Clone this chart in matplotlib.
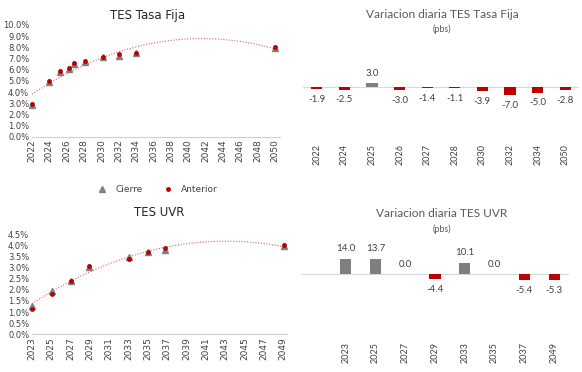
import numpy as np
import matplotlib
matplotlib.use("Agg")
import matplotlib.pyplot as plt
from matplotlib.lines import Line2D

# --- TES Tasa Fija curve (yield %) ---
tf_x = [2022.0, 2024.0, 2025.25, 2026.25, 2026.9, 2028.1, 2030.2, 2032.0, 2034.0, 2050.0]
tf_cierre = [2.87, 4.90, 5.80, 6.10, 6.55, 6.70, 7.10, 7.22, 7.46, 7.97]
tf_anterior = [2.93, 5.01, 5.88, 6.18, 6.63, 6.80, 7.16, 7.43, 7.52, 8.03]

# --- TES UVR curve (yield %) ---
uvr_x = [2023.0, 2025.05, 2027.05, 2028.9, 2033.0, 2035.0, 2036.8, 2049.1]
uvr_cierre = [1.27, 1.93, 2.40, 3.03, 3.50, 3.69, 3.78, 3.97]
uvr_anterior = [1.15, 1.83, 2.42, 3.07, 3.40, 3.72, 3.88, 4.02]

# --- daily changes (pbs) ---
tf_labels = ["2022", "2024", "2025", "2026", "2027", "2028", "2030", "2032", "2034", "2050"]
tf_var = [-1.9, -2.5, 3.0, -3.0, -1.4, -1.1, -3.9, -7.0, -5.0, -2.8]
uvr_labels = ["2023", "2025", "2027", "2029", "2033", "2035", "2037", "2049"]
uvr_var = [14.0, 13.7, 0.0, -4.4, 10.1, 0.0, -5.4, -5.3]

W, H = 582, 372
GRAY = "#7f7f7f"
RED = "#c00000"
TXT = "#404040"


def box(l, r, t, b):
    # pixel box -> figure fraction rect
    return [l / W, 1 - b / H, (r - l) / W, (b - t) / H]


fig = plt.figure(figsize=(W / 100, H / 100), dpi=100)


def curve(rect, x, cierre, anterior, xlim, ylim, yticks, xticks):
    ax = fig.add_axes(rect)
    coef = np.polyfit(x, cierre, 2)
    xs = np.linspace(x[0], x[-1], 200)
    ax.plot(xs, np.polyval(coef, xs), ls=(0, (1, 1.5)), color="#e06060", lw=0.8)
    ax.plot(x, cierre, "^", color=GRAY, ms=4, mec=GRAY, clip_on=False)
    ax.plot(x, anterior, "o", color=RED, ms=3, mec="#a00000", mew=0.4, clip_on=False)
    ax.set_xlim(*xlim)
    ax.set_ylim(*ylim)
    ax.set_yticks(yticks)
    ax.set_yticklabels([f"{v:.1f}%" for v in yticks], fontsize=6, color=TXT)
    ax.set_xticks(xticks)
    ax.set_xticklabels([str(v) for v in xticks], rotation=90, fontsize=6.5, color=TXT)
    for s in ["top", "right", "left"]:
        ax.spines[s].set_visible(False)
    ax.spines["bottom"].set_color("#d0d0d0")
    ax.tick_params(length=0, pad=2)
    return ax


curve(box(32, 280, 25, 136.7), tf_x, tf_cierre, tf_anterior, (2022, 2050.6), (0, 10),
      np.arange(0, 10.01, 1.0), list(range(2022, 2051, 2)))
curve(box(32, 287, 234.3, 334.3), uvr_x, uvr_cierre, uvr_anterior, (2023, 2049.4), (0, 4.5),
      np.arange(0, 4.51, 0.5), list(range(2023, 2050, 2)))

fig.text(148 / W, 1 - 15 / H, "TES Tasa Fija", ha="center", va="center", fontsize=8.5, color="#262626")
fig.text(159 / W, 1 - 212.7 / H, "TES UVR", ha="center", va="center", fontsize=8.5, color="#262626")

handles = [Line2D([], [], ls="", marker="^", color=GRAY, ms=4),
           Line2D([], [], ls="", marker="o", color=RED, ms=2.5)]
fig.legend(handles, ["Cierre", "Anterior"], loc="center", bbox_to_anchor=(157 / W, 1 - 190 / H),
           ncol=2, frameon=False, fontsize=6.5, columnspacing=2.2, handletextpad=0.9,
           handlelength=1.2, labelcolor=TXT)


def bars(rect, labels, vals, xlim, ylim, width):
    ax = fig.add_axes(rect)
    pos = np.arange(len(vals))
    cols = [GRAY if v >= 0 else RED for v in vals]
    ax.bar(pos, vals, width=width, color=cols)
    ax.axhline(0, color="#d9d9d9", lw=0.8, zorder=0)
    for p, v in zip(pos, vals):
        if v >= 0:
            ax.annotate(f"{v:.1f}", (p, v), xytext=(0, 4), textcoords="offset points",
                        ha="center", va="bottom", fontsize=7, color=TXT, family="Lato")
        else:
            ax.annotate(f"{v:.1f}", (p, v), xytext=(0, -4), textcoords="offset points",
                        ha="center", va="top", fontsize=7, color=TXT, family="Lato")
    ax.set_xlim(*xlim)
    ax.set_ylim(*ylim)
    ax.set_yticks([])
    ax.set_xticks(pos)
    ax.set_xticklabels(labels, rotation=90, fontsize=6.5, color=TXT, family="Lato")
    for s in ax.spines.values():
        s.set_visible(False)
    ax.tick_params(length=0, pad=3)
    return ax


bars(box(303, 579, 45, 140), tf_labels, tf_var, (-0.5, 9.5), (-44.4, 34.75), 0.4)
bars(box(301, 569, 250, 338), uvr_labels, uvr_var, (-1.5, 7.5), (-56.9, 21.7), 0.37)

fig.text(442 / W, 1 - 15 / H, "Variacion diaria TES Tasa Fija", ha="center", va="center",
         fontsize=8.6, color="#595959", family="Lato")
fig.text(442 / W, 1 - 29 / H, "(pbs)", ha="center", va="center", fontsize=6.5,
         color="#595959", family="Lato")
fig.text(442 / W, 1 - 213 / H, "Variacion diaria TES UVR", ha="center", va="center",
         fontsize=8.6, color="#595959", family="Lato")
fig.text(442 / W, 1 - 229 / H, "(pbs)", ha="center", va="center", fontsize=6.5,
         color="#595959", family="Lato")

fig.savefig("out.png", dpi=100)
